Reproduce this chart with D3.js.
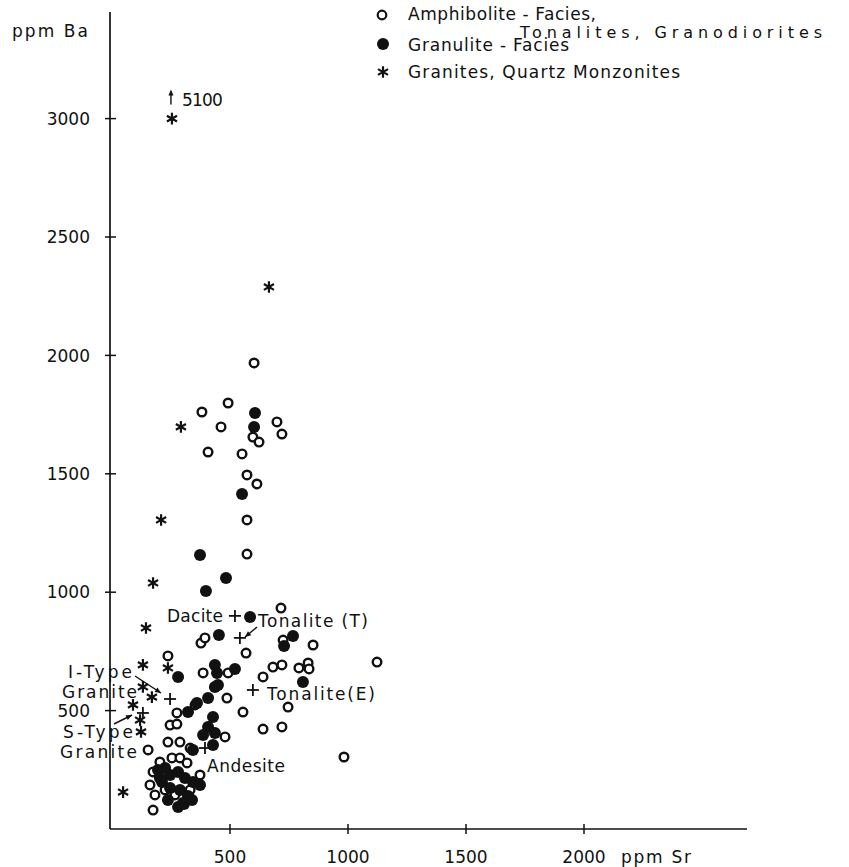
<!DOCTYPE html>
<html>
<head>
<meta charset="utf-8">
<script src="https://cdn.jsdelivr.net/npm/d3@7"></script>
<style>
  html, body { margin: 0; padding: 0; background: #fff; }
  svg { display: block; }
  text { font-family: "DejaVu Sans", sans-serif; fill: #111; }
</style>
</head>
<body>
<svg id="chart" width="849" height="867"></svg>
<script>
// Ba vs Sr (ppm) for tonalites, granodiorites and granites

// Amphibolite-facies tonalites, granodiorites: [Sr, Ba]
const amphibolite = [
  [602,1968],[492,1799],[381,1761],[462,1698],[699,1719],[720,1668],[597,1655],
  [623,1634],[407,1592],[551,1584],[572,1495],[614,1457],[572,1305],[572,1161],
  [716,933],[377,785],[394,807],[568,743],[725,798],[237,731],[386,659],[492,659],
  [640,642],[682,684],[720,693],[792,680],[831,701],[835,676],[852,777],[1123,705],
  [746,515],[720,431],[983,304],[275,490],[246,439],[275,443],[352,524],[487,553],
  [555,494],[640,422],[479,389],[237,367],[288,367],[331,342],[254,300],[288,300],
  [161,186],[174,80],[153,334],[203,283],[318,279],[174,241],[182,144],[225,165],
  [267,144],[331,165],[373,228]
];

// Granulite-facies tonalites, granodiorites: [Sr, Ba]
const granulite = [
  [606,1757],[602,1698],[551,1415],[373,1157],[483,1060],[398,1005],[585,895],
  [453,819],[767,815],[729,773],[280,642],[436,693],[445,659],[521,676],[809,621],
  [436,600],[449,608],[322,494],[360,532],[407,553],[428,473],[407,431],[386,397],
  [436,405],[428,355],[343,334],[301,110],[280,93],[195,249],[225,258],[246,228],
  [280,241],[309,215],[343,198],[373,186],[212,198],[246,173],[288,165],[322,139],
  [305,106],[339,122],[237,122],[203,215]
];

// Granites, quartz monzonites: [Sr, Ba]
const granites = [
  [254,5100],[665,2289],[292,1698],[208,1305],[174,1039],[144,849],[131,693],
  [237,680],[131,600],[169,557],[89,524],[119,460],[123,410],[47,156]
];

// Average compositions marked with a cross: [Sr, Ba]
const references = [
  [521,900],[542,807],[246,549],[131,490],[597,587],[394,342]
];

const xTicks = [500, 1000, 1500, 2000];
const yTicks = [500, 1000, 1500, 2000, 2500, 3000];
const yClip = 3000; // values above this are drawn at the top with an arrow

const svg = d3.select("#chart");
const x = d3.scaleLinear().domain([0, 2000]).range([112, 584]);
const y = d3.scaleLinear().domain([0, 3000]).range([829, 118.6]);

const ink = "#111";
const FS = 17;

// text helper; when a width is given the glyph spacing is stretched to it
function label(t, px, py, opts = {}) {
  const s = svg.append("text").attr("x", px).attr("y", py)
    .attr("font-size", opts.size || FS)
    .attr("text-anchor", opts.anchor || "start").text(t);
  if (opts.width) s.attr("textLength", opts.width).attr("lengthAdjust", "spacing");
  return s;
}

// y axis
const ax0 = x(0) - 2;
svg.append("line").attr("x1", ax0).attr("x2", ax0)
  .attr("y1", 12).attr("y2", y(0))
  .attr("stroke", ink).attr("stroke-width", 1.7);
svg.selectAll("line.ytick").data(yTicks).join("line")
  .attr("class", "ytick")
  .attr("x1", ax0 - 5).attr("x2", ax0 + 6)
  .attr("y1", d => y(d)).attr("y2", d => y(d))
  .attr("stroke", ink).attr("stroke-width", 1.5);
svg.selectAll("text.ytl").data(yTicks).join("text")
  .attr("class", "ytl")
  .attr("x", ax0 - 20).attr("y", d => y(d))
  .attr("dy", "0.36em").attr("text-anchor", "end")
  .attr("font-size", FS).text(d => d);

// x axis
svg.append("line").attr("x1", ax0).attr("x2", 747)
  .attr("y1", y(0)).attr("y2", y(0))
  .attr("stroke", ink).attr("stroke-width", 1.7);
svg.selectAll("line.xtick").data(xTicks).join("line")
  .attr("class", "xtick")
  .attr("x1", d => x(d)).attr("x2", d => x(d))
  .attr("y1", y(0) - 5).attr("y2", y(0) + 5)
  .attr("stroke", ink).attr("stroke-width", 1.5);
svg.selectAll("text.xtl").data(xTicks).join("text")
  .attr("class", "xtl")
  .attr("x", d => x(d)).attr("y", y(0) + 34)
  .attr("text-anchor", "middle")
  .attr("font-size", FS).text(d => d);

// axis titles
label("ppm Ba", 12, 37, { width: 76 });
label("ppm Sr", 621, y(0) + 34, { width: 70 });

// markers
const plot = svg.append("g");
const cy = d => y(Math.min(d[1], yClip));

plot.selectAll("circle.amph").data(amphibolite).join("circle")
  .attr("class", "amph")
  .attr("cx", d => x(d[0])).attr("cy", cy)
  .attr("r", 4.3).attr("fill", "#fff")
  .attr("stroke", ink).attr("stroke-width", 2.4);

plot.selectAll("circle.gran").data(granulite).join("circle")
  .attr("class", "gran")
  .attr("cx", d => x(d[0])).attr("cy", cy)
  .attr("r", 6).attr("fill", ink);

const star = d3.symbol().type(d3.symbolAsterisk).size(95);
plot.selectAll("path.star").data(granites).join("path")
  .attr("class", "star")
  .attr("transform", d => `translate(${x(d[0])},${cy(d)})`)
  .attr("d", star).attr("fill", "none")
  .attr("stroke", ink).attr("stroke-width", 2.2);

plot.selectAll("g.ref").data(references).join("g")
  .attr("class", "ref")
  .attr("transform", d => `translate(${x(d[0])},${y(d[1])})`)
  .each(function () {
    const g = d3.select(this);
    g.append("line").attr("x1", -6).attr("x2", 6).attr("stroke", ink).attr("stroke-width", 1.8);
    g.append("line").attr("y1", -6).attr("y2", 6).attr("stroke", ink).attr("stroke-width", 1.8);
  });

// off-scale value annotation
granites.filter(d => d[1] > yClip).forEach(d => {
  const px = x(d[0]) - 1, py = y(yClip);
  svg.append("line").attr("x1", px).attr("x2", px).attr("y1", py - 14).attr("y2", py - 27)
    .attr("stroke", ink).attr("stroke-width", 1.4);
  svg.append("path").attr("d", `M${px - 2.5},${py - 23} L${px},${py - 29} L${px + 2.5},${py - 23} Z`).attr("fill", ink);
  label(d[1], px + 11, py - 13, { width: 41 });
});

// labels for the reference crosses
function arrow(x1, y1, x2, y2) {
  svg.append("line").attr("x1", x1).attr("y1", y1).attr("x2", x2).attr("y2", y2)
    .attr("stroke", ink).attr("stroke-width", 1.4);
  const a = Math.atan2(y2 - y1, x2 - x1), L = 6, W = 2.6;
  const bx = x2 - L * Math.cos(a), by = y2 - L * Math.sin(a);
  svg.append("path")
    .attr("d", `M${x2},${y2} L${bx - W * Math.sin(a)},${by + W * Math.cos(a)} L${bx + W * Math.sin(a)},${by - W * Math.cos(a)} Z`)
    .attr("fill", ink);
}

label("Dacite", 167, 622, { width: 56 });
label("Tonalite (T)", 258, 627, { width: 110 });
arrow(257, 627, 245, 637);
label("Tonalite(E)", 267, 700, { width: 108 });
label("I-Type", 68, 678, { width: 64 });
label("Granite", 62, 698, { width: 75 });
arrow(135, 676, 161, 693);
label("S-Type", 63, 738, { width: 70 });
label("Granite", 60, 758, { width: 77 });
arrow(114, 724, 132, 715);
label("Andesite", 207, 772, { width: 78 });

// legend
const legend = svg.append("g");
legend.append("circle").attr("cx", 382).attr("cy", 15).attr("r", 4.3)
  .attr("fill", "#fff").attr("stroke", ink).attr("stroke-width", 2.2);
legend.append("circle").attr("cx", 383).attr("cy", 44).attr("r", 6).attr("fill", ink);
legend.append("path").attr("transform", "translate(383,72)").attr("d", star)
  .attr("fill", "none").attr("stroke", ink).attr("stroke-width", 2.2);
label("Amphibolite - Facies,", 408, 20, { width: 188 });
label("Tonalites, Granodiorites", 520, 38, { width: 302, size: 16 });
label("Granulite - Facies", 408, 51, { width: 161 });
label("Granites, Quartz Monzonites", 408, 78, { width: 272 });
</script>
</body>
</html>
